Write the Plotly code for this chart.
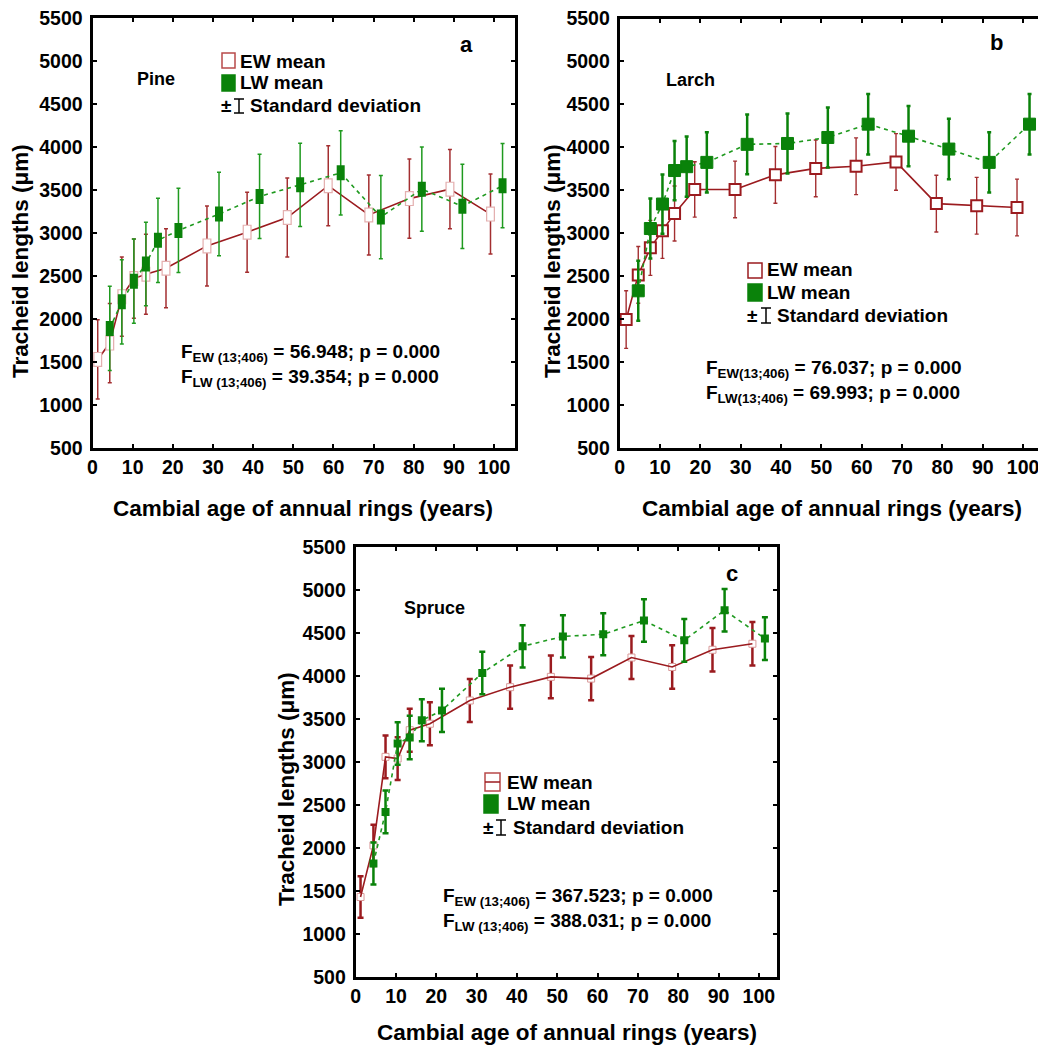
import plotly.graph_objects as go

# ---------------- data ----------------
X_TICKS = [0, 10, 20, 30, 40, 50, 60, 70, 80, 90, 100]
Y_TICKS = [500, 1000, 1500, 2000, 2500, 3000, 3500, 4000, 4500, 5000, 5500]

PINE_EW_AGE = [1.3, 4.3, 7.3, 10.3, 13.3, 18.3, 28.5, 38.5, 48.5, 58.7, 68.8, 78.9, 89.0, 99.1]
PINE_LW_AGE = [4.3, 7.3, 10.3, 13.3, 16.3, 21.4, 31.5, 41.6, 51.7, 61.8, 71.8, 82.0, 92.1, 102.1]
PINE_EW_MEAN = [1530, 1720, 2260, 2470, 2520, 2590, 2850, 3010, 3180, 3550, 3210, 3400, 3510, 3220]
PINE_EW_SD = [460, 460, 460, 460, 465, 460, 465, 465, 460, 465, 465, 460, 460, 465]
PINE_LW_MEAN = [1890, 2200, 2440, 2640, 2915, 3030, 3220, 3425, 3560, 3700, 3185, 3510, 3310, 3550]
PINE_LW_SD = [490, 490, 490, 485, 490, 490, 485, 490, 485, 490, 485, 490, 490, 490]

LARCH_EW_AGE = [1.6, 4.6, 7.6, 10.6, 13.6, 18.6, 28.6, 38.6, 48.6, 58.6, 68.5, 78.5, 88.5, 98.5]
LARCH_LW_AGE = [4.6, 7.6, 10.6, 13.6, 16.6, 21.6, 31.6, 41.6, 51.6, 61.6, 71.6, 81.6, 91.6, 101.6]
LARCH_EW_MEAN = [1995, 2515, 2830, 3030, 3230, 3510, 3510, 3680, 3755, 3780, 3830, 3345, 3320, 3300]
LARCH_EW_SD = [335, 330, 320, 322, 320, 322, 330, 330, 330, 330, 330, 330, 330, 330]
LARCH_LW_MEAN = [2330, 3055, 3340, 3730, 3775, 3825, 4035, 4045, 4115, 4270, 4130, 3980, 3825, 4270]
LARCH_LW_SD = [350, 350, 345, 345, 350, 350, 348, 350, 350, 352, 350, 352, 350, 352]

SPRUCE_EW_AGE = [1.2, 4.4, 7.4, 10.4, 13.4, 18.4, 28.3, 38.3, 48.4, 58.4, 68.4, 78.5, 88.5, 98.4]
SPRUCE_LW_AGE = [4.4, 7.4, 10.4, 13.4, 16.4, 21.4, 31.4, 41.4, 51.4, 61.4, 71.5, 81.5, 91.5, 101.5]
SPRUCE_EW_MEAN = [1430, 2030, 3060, 3040, 3370, 3445, 3715, 3870, 3990, 3970, 4215, 4105, 4305, 4375]
SPRUCE_EW_SD = [242, 240, 248, 248, 250, 250, 250, 252, 248, 252, 250, 252, 252, 252]
SPRUCE_LW_MEAN = [1820, 2420, 3215, 3285, 3485, 3600, 4035, 4345, 4460, 4485, 4645, 4415, 4765, 4435]
SPRUCE_LW_SD = [245, 248, 248, 252, 245, 252, 248, 245, 245, 245, 248, 248, 248, 248]

SPECIES = ["Pine", "Larch", "Spruce"]
PANEL_LETTERS = ["a", "b", "c"]
F_TEXTS = [
    ("F<sub>EW (13;406)</sub> = 56.948; p = 0.000", "F<sub>LW (13;406)</sub> = 39.354; p = 0.000"),
    ("F<sub>EW(13;406)</sub> = 76.037; p = 0.000", "F<sub>LW(13;406)</sub> = 69.993; p = 0.000"),
    ("F<sub>EW (13;406)</sub> = 367.523; p = 0.000", "F<sub>LW (13;406)</sub> = 388.031; p = 0.000"),
]
Y_TITLE = "Tracheid lengths (μm)"
X_TITLE = "Cambial age of annual rings (years)"

# ---------------- layout helpers ----------------
W, H = 1038, 1046
FONT = "Liberation Sans, Arial, sans-serif"
RED = "#9b1b1f"
RED_BAR = "#a32e30"
GREEN = "#0a820a"
GREEN_BAR = "#1f9a1f"


def px(x):
    return x / W


def py(y):
    return 1 - y / H


# pixel boxes of the three plot areas
BOX = {
    "a": dict(x0=92.5, x1=515, y0=18, y1=448, xmax=105.2),
    "b": dict(x0=619.7, x1=1038, y0=18.5, y1=448, xmax=103.7),
    "c": dict(x0=355.7, x1=777, y0=547, y1=977, xmax=104.5),
}
AX = {"a": ("x", "y", "xaxis", "yaxis"),
      "b": ("x2", "y2", "xaxis2", "yaxis2"),
      "c": ("x3", "y3", "xaxis3", "yaxis3")}

fig = go.Figure()

# ---------------- panel a (tall rectangle markers) ----------------
xa, ya = AX["a"][0], AX["a"][1]
units_a = (Y_TICKS[-1] - Y_TICKS[0]) / (BOX["a"]["y1"] - BOX["a"]["y0"])
fig.add_trace(go.Scatter(x=PINE_EW_AGE, y=PINE_EW_MEAN, mode="lines",
                         line=dict(color=RED, width=1.6),
                         error_y=dict(type="data", array=PINE_EW_SD, color=RED_BAR, thickness=1.5, width=2),
                         xaxis=xa, yaxis=ya, showlegend=False, hoverinfo="skip"))
fig.add_trace(go.Scatter(x=PINE_EW_AGE, y=PINE_EW_MEAN, mode="markers",
                         marker=dict(size=1, opacity=0),
                         error_y=dict(type="constant", value=7.5 * units_a, color="#e4b0b0", thickness=9, width=0),
                         xaxis=xa, yaxis=ya, showlegend=False, hoverinfo="skip"))
fig.add_trace(go.Scatter(x=PINE_EW_AGE, y=PINE_EW_MEAN, mode="markers",
                         marker=dict(size=1, opacity=0),
                         error_y=dict(type="constant", value=6.3 * units_a, color="white", thickness=6.5, width=0),
                         xaxis=xa, yaxis=ya, showlegend=False, hoverinfo="skip"))
fig.add_trace(go.Scatter(x=PINE_LW_AGE, y=PINE_LW_MEAN, mode="lines",
                         line=dict(color=GREEN_BAR, width=1.6, dash="4px,4px"),
                         error_y=dict(type="data", array=PINE_LW_SD, color=GREEN_BAR, thickness=1.5, width=2),
                         xaxis=xa, yaxis=ya, showlegend=False, hoverinfo="skip"))
fig.add_trace(go.Scatter(x=PINE_LW_AGE, y=PINE_LW_MEAN, mode="markers",
                         marker=dict(size=1, opacity=0),
                         error_y=dict(type="constant", value=7.5 * units_a, color=GREEN, thickness=8, width=0),
                         xaxis=xa, yaxis=ya, showlegend=False, hoverinfo="skip"))

# ---------------- panel b ----------------
xb, yb = AX["b"][0], AX["b"][1]
fig.add_trace(go.Scatter(x=LARCH_EW_AGE, y=LARCH_EW_MEAN, mode="lines+markers",
                         line=dict(color=RED, width=1.6),
                         marker=dict(symbol="square", size=11, color="white", line=dict(color=RED, width=2)),
                         error_y=dict(type="data", array=LARCH_EW_SD, color=RED_BAR, thickness=1.4, width=2),
                         xaxis=xb, yaxis=yb, showlegend=False, hoverinfo="skip"))
fig.add_trace(go.Scatter(x=LARCH_LW_AGE, y=LARCH_LW_MEAN, mode="lines+markers",
                         line=dict(color=GREEN_BAR, width=1.6, dash="4px,4px"),
                         marker=dict(symbol="square", size=12, color=GREEN, line=dict(color=GREEN, width=1)),
                         error_y=dict(type="data", array=LARCH_LW_SD, color=GREEN, thickness=2.5, width=2),
                         xaxis=xb, yaxis=yb, showlegend=False, hoverinfo="skip", cliponaxis=False))

# ---------------- panel c ----------------
xc, yc = AX["c"][0], AX["c"][1]
fig.add_trace(go.Scatter(x=SPRUCE_EW_AGE, y=SPRUCE_EW_MEAN, mode="markers",
                         marker=dict(symbol="square", size=7, color="white", line=dict(color="#d99a9a", width=1)),
                         error_y=dict(type="data", array=SPRUCE_EW_SD, color=RED, thickness=2.5, width=3),
                         xaxis=xc, yaxis=yc, showlegend=False, hoverinfo="skip"))
fig.add_trace(go.Scatter(x=SPRUCE_EW_AGE, y=SPRUCE_EW_MEAN, mode="lines",
                         line=dict(color=RED, width=1.6),
                         xaxis=xc, yaxis=yc, showlegend=False, hoverinfo="skip"))
fig.add_trace(go.Scatter(x=SPRUCE_LW_AGE, y=SPRUCE_LW_MEAN, mode="lines+markers",
                         line=dict(color=GREEN_BAR, width=1.6, dash="4px,4px"),
                         marker=dict(symbol="square", size=8, color=GREEN),
                         error_y=dict(type="data", array=SPRUCE_LW_SD, color=GREEN, thickness=2.5, width=3),
                         xaxis=xc, yaxis=yc, showlegend=False, hoverinfo="skip"))

# ---------------- axes ----------------
layout_axes = {}
for key in ["a", "b", "c"]:
    b = BOX[key]
    xname, yname, xl, yl = AX[key]
    common = dict(showline=True, linewidth=3, linecolor="black", ticks="inside", ticklen=4,
                  tickwidth=2, tickcolor="black", showgrid=False, zeroline=False,
                  automargin=False, ticklabeloverflow="allow",
                  tickfont=dict(family=FONT, size=19.5, color="black", weight="bold"))
    layout_axes[xl] = dict(common, domain=[px(b["x0"]), px(b["x1"])], range=[0, b["xmax"]],
                           tickvals=X_TICKS, anchor=yname, mirror="allticks")
    layout_axes[yl] = dict(common, domain=[py(b["y1"]), py(b["y0"])], range=[Y_TICKS[0], Y_TICKS[-1]],
                           tickvals=Y_TICKS, anchor=xname,
                           mirror=("allticks" if key != "b" else False), ticklabelstandoff=3)

fig.update_layout(**layout_axes)

# ---------------- annotations ----------------
ann = []
shapes = []


def text(x, y, s, size=18, xanchor="left", angle=0):
    ann.append(dict(x=px(x), y=py(y), xref="paper", yref="paper", text=s, showarrow=False,
                    xanchor=xanchor, yanchor="middle", textangle=angle,
                    font=dict(family=FONT, size=size, color="black", weight="bold")))


# axis titles
for (yx, yy), (xx, xy) in zip([(20, 261), (552, 261), (286, 789)],
                              [(303, 508), (832, 508), (567, 1032)]):
    text(yx, yy, Y_TITLE, size=22.5, xanchor="center", angle=-90)
    text(xx, xy, X_TITLE, size=22.5, xanchor="center")

# species names and panel letters
for name, (x, y) in zip(SPECIES, [(156, 79), (690, 80), (434, 608)]):
    text(x, y, name, size=18, xanchor="center")
for letter, (x, y) in zip(PANEL_LETTERS, [(466, 45), (996, 43), (732, 573)]):
    text(x, y, letter, size=22, xanchor="center")

# F statistics
for (l1, l2), (x, y1, y2) in zip(F_TEXTS, [(179, 353, 378), (704, 369, 394), (441, 897, 922)]):
    text(x, y1, l1, size=19)
    text(x, y2, l2, size=19)


def rect(x0, y0, x1, y1, fill, line, lw=1.5):
    shapes.append(dict(type="rect", xref="paper", yref="paper", x0=px(x0), x1=px(x1),
                       y0=py(y1), y1=py(y0), fillcolor=fill, line=dict(color=line, width=lw)))


def seg(x0, y0, x1, y1, color="black", lw=1.5):
    shapes.append(dict(type="line", xref="paper", yref="paper", x0=px(x0), x1=px(x1),
                       y0=py(y0), y1=py(y1), line=dict(color=color, width=lw)))


def ibeam(x, ytop, ybot, half=5):
    seg(x, ytop, x, ybot)
    seg(x - half, ytop, x + half, ytop)
    seg(x - half, ybot, x + half, ybot)


# legend a
rect(222, 53, 235, 68, "white", "#b84a4a")
rect(222, 75, 235, 91, GREEN, GREEN)
text(238, 61, "EW mean", size=19)
text(238, 83, "LW mean", size=19)
text(219, 106, "±", size=19)
ibeam(239, 99, 113)
text(248, 106, "Standard deviation", size=19)

# legend b
rect(748, 263, 762, 278, "white", RED)
rect(748, 284, 762, 301, GREEN, GREEN)
text(765, 270, "EW mean", size=19)
text(765, 293, "LW mean", size=19)
text(745, 315, "±", size=19)
ibeam(766, 308, 323)
text(775, 315, "Standard deviation", size=19)

# legend c
rect(485, 773, 500, 791, "white", "#b84a4a")
seg(485, 782, 500, 782, RED, 1.5)
rect(484, 795, 498, 813, GREEN, GREEN)
text(505, 782, "EW mean", size=19)
text(505, 804, "LW mean", size=19)
text(481, 827, "±", size=19)
ibeam(501, 820, 835)
text(511, 827, "Standard deviation", size=19)

fig.update_layout(width=W, height=H, margin=dict(l=0, r=0, t=0, b=0, pad=0, autoexpand=False),
                  paper_bgcolor="white", plot_bgcolor="white",
                  font=dict(family=FONT, size=18, color="black"),
                  annotations=ann, shapes=shapes)

fig.write_html("out.html", config={"displayModeBar": False},
               post_script="document.body.style.margin='0';document.body.style.padding='0';"
                           "document.body.style.overflow='hidden';")
